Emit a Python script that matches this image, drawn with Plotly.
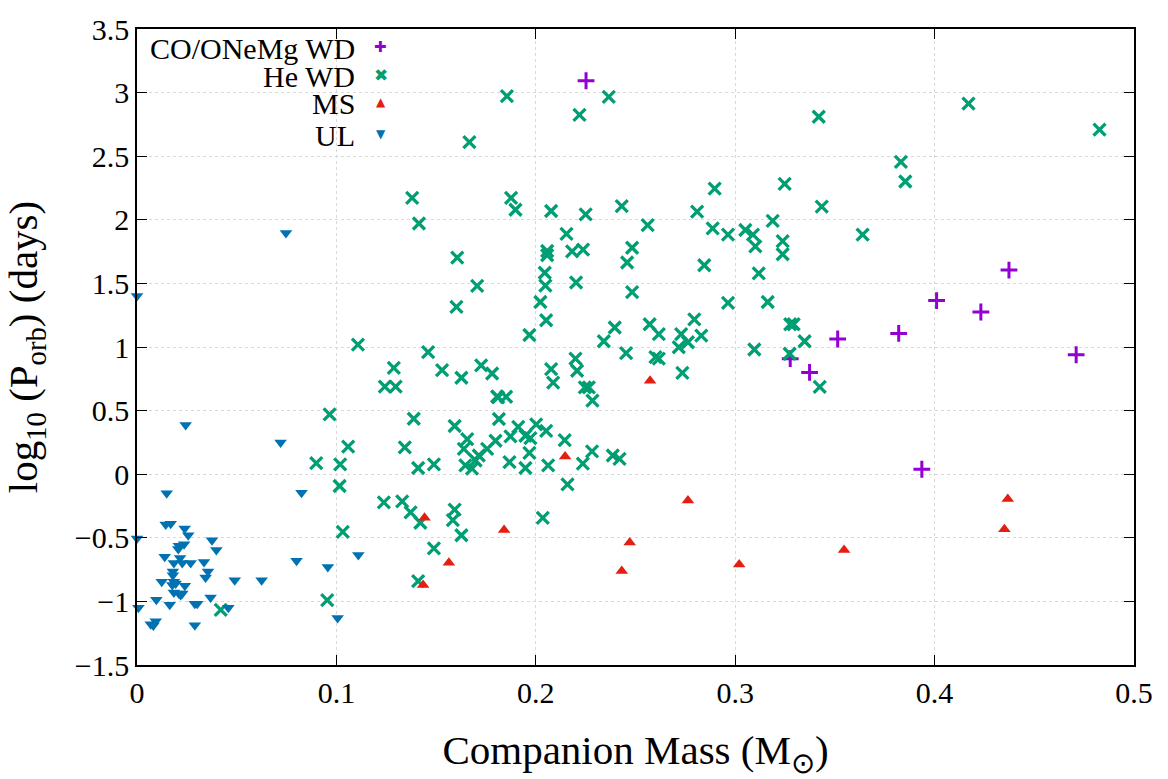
import plotly.graph_objects as go

# ---------------- data ----------------
co_mass = [0.2252, 0.3514, 0.3276, 0.3373, 0.4373, 0.4010, 0.4232, 0.3820, 0.4710, 0.3936]
co_logp = [3.093, 1.063, 0.908, 0.800, 1.605, 1.365, 1.275, 1.107, 0.939, 0.039]

he_mass = [0.0899, 0.0966, 0.0954, 0.0420, 0.1380, 0.1414, 0.1606, 0.1706, 0.1602, 0.1108,
           0.1460, 0.1288, 0.1530, 0.1627, 0.1726, 0.1781, 0.1243, 0.1297, 0.1806, 0.1388,
           0.1593, 0.1815, 0.1656, 0.1639, 0.1756, 0.1798, 0.1714, 0.1698, 0.1647, 0.1680,
           0.1059, 0.1343, 0.1019, 0.1410, 0.1489, 0.1016, 0.1238, 0.1330, 0.1372, 0.1421,
           0.1593, 0.1584, 0.1627, 0.1032, 0.1489, 0.1410, 0.1855, 0.2366, 0.2219, 0.1876,
           0.1898, 0.2077, 0.2250, 0.2431, 0.2809, 0.2561, 0.2887, 0.2154, 0.2057, 0.2057,
           0.2182, 0.2237, 0.2483, 0.2458, 0.2045, 0.2048, 0.2202, 0.2483, 0.2023, 0.2845,
           0.2052, 0.1968, 0.2341, 0.2396, 0.2571, 0.2617, 0.2795, 0.2729, 0.2830, 0.2717,
           0.2763, 0.2453, 0.2600, 0.2617, 0.2735, 0.2077, 0.2087, 0.2199, 0.2207, 0.2246,
           0.2266, 0.2284, 0.1811, 0.1851, 0.1912, 0.2002, 0.2052, 0.1873, 0.1948, 0.1973,
           0.1968, 0.1868, 0.1948, 0.2062, 0.2145, 0.2282, 0.2236, 0.2386, 0.2420, 0.2159,
           0.2035, 0.2897, 0.3248, 0.3434, 0.2964, 0.3051, 0.3089, 0.3188, 0.3101, 0.3238,
           0.3238, 0.3639, 0.3118, 0.2964, 0.3163, 0.3276, 0.3293, 0.3348, 0.3096, 0.3273,
           0.3424, 0.4170, 0.4827, 0.3831, 0.3853, 0.3419, 0.1667]
he_logp = [0.087, 0.470, -0.990, -1.066, 2.172, 1.971, 1.703, 1.481, 1.316, 1.019,
           0.960, 0.836, 0.818, 0.758, 0.856, 0.792, 0.689, 0.689, 0.611, 0.436,
           0.379, 0.434, 0.276, 0.199, 0.199, 0.263, 0.147, 0.108, 0.070, 0.044,
           0.217, 0.211, 0.077, 0.049, 0.077, -0.093, -0.222, -0.214, -0.300, -0.382,
           -0.279, -0.361, -0.480, -0.454, -0.583, -0.841, 2.972, 2.967, 2.825, 2.172,
           2.079, 2.069, 2.043, 2.108, 2.064, 1.958, 1.933, 1.889, 1.755, 1.721,
           1.752, 1.765, 1.780, 1.664, 1.584, 1.483, 1.507, 1.432, 1.354, 1.643,
           1.210, 1.094, 1.045, 1.153, 1.179, 1.101, 1.217, 1.101, 1.089, 0.998,
           1.037, 0.952, 0.921, 0.908, 0.797, 0.826, 0.720, 0.908, 0.813, 0.683,
           0.683, 0.578, 0.604, 0.609, 0.372, 0.392, 0.341, 0.297, 0.302, 0.284,
           0.168, 0.095, 0.049, 0.070, 0.268, 0.180, 0.083, 0.147, 0.121, -0.080,
           -0.343, 2.245, 2.283, 2.103, 1.884, 1.920, 1.884, 1.992, 1.791, 1.832,
           1.729, 1.884, 1.579, 1.347, 1.354, 1.179, 1.179, 1.045, 0.980, 0.947,
           0.687, 2.913, 2.709, 2.456, 2.301, 2.810, 2.611]

ms_mass = [0.1442, 0.1564, 0.1435, 0.2573, 0.2147, 0.2763, 0.1841, 0.2471, 0.2431, 0.3020,
           0.3546, 0.4367, 0.4350]
ms_logp = [-0.343, -0.697, -0.872, 0.735, 0.139, -0.206, -0.439, -0.537, -0.761, -0.710,
           -0.596, -0.194, -0.433]

ul_mass = [0.0244, 0.0720, 0.0149, 0.0825, 0.0144, 0.0169, 0.0239, 0.0257, 0.0000, 0.0376,
           0.0398, 0.0210, 0.0236, 0.0207, 0.0139, 0.0216, 0.0185, 0.0227, 0.0269, 0.0336,
           0.0800, 0.0957, 0.0180, 0.0180, 0.0356, 0.0344, 0.0124, 0.0185, 0.0194, 0.0177,
           0.0240, 0.0490, 0.0625, 0.0185, 0.0210, 0.0227, 0.0219, 0.0097, 0.0164, 0.0290,
           0.0302, 0.0369, 0.0007, 0.0458, 0.0094, 0.0069, 0.0082, 0.0290, 0.0747, 0.1006,
           0.1110, 0.0000]
ul_logp = [0.387, 0.250, -0.150, -0.145, -0.395, -0.390, -0.426, -0.480, -0.505, -0.520,
           -0.596, -0.563, -0.550, -0.588, -0.648, -0.658, -0.699, -0.699, -0.699, -0.690,
           -0.680, -0.730, -0.764, -0.795, -0.764, -0.813, -0.846, -0.846, -0.859, -0.872,
           -0.877, -0.834, -0.834, -0.930, -0.937, -0.937, -0.950, -0.988, -1.027, -1.019,
           -1.019, -0.970, -1.050, -1.050, -1.156, -1.180, -1.190, -1.187, 1.896, -1.130,
           -0.635, 1.400]

x_ticks = [0, 0.1, 0.2, 0.3, 0.4, 0.5]
x_ticklabels = ["0", "0.1", "0.2", "0.3", "0.4", "0.5"]
y_ticks = [-1.5, -1, -0.5, 0, 0.5, 1, 1.5, 2, 2.5, 3, 3.5]
y_ticklabels = ["\u22121.5", "\u22121", "\u22120.5", "0", "0.5", "1", "1.5", "2", "2.5", "3", "3.5"]

names = ["CO/ONeMg WD", "He WD", "MS", "UL"]
colors = ["#9400D3", "#009E73", "#E51E10", "#0072B2"]
legend_glyphs = ["\u271A", "\u2716", "\u25B2", "\u25BC"]
legend_glyph_sizes = [15, 17, 12, 12]

FONT = "Liberation Serif, Times New Roman, serif"

fig = go.Figure()
fig.add_trace(go.Scatter(x=co_mass, y=co_logp, mode="markers", name=names[0],
                         marker=dict(symbol="cross-thin", size=12, color=colors[0],
                                     line=dict(width=3, color=colors[0])),
                         cliponaxis=False))
fig.add_trace(go.Scatter(x=he_mass, y=he_logp, mode="markers", name=names[1],
                         marker=dict(symbol="x-thin", size=12, color=colors[1],
                                     line=dict(width=3.3, color=colors[1])),
                         cliponaxis=False))
fig.add_trace(go.Scatter(x=ms_mass, y=ms_logp, mode="markers", name=names[2],
                         marker=dict(symbol="triangle-up", size=11, color=colors[2],
                                     line=dict(width=0)),
                         cliponaxis=False))
fig.add_trace(go.Scatter(x=ul_mass, y=ul_logp, mode="markers", name=names[3],
                         marker=dict(symbol="triangle-down", size=11, color=colors[3],
                                     line=dict(width=0)),
                         cliponaxis=False))

# custom legend (text to the left of the symbol, as in the reference)
legend_y = [0.969, 0.925, 0.883, 0.833]
annotations = []
for name, col, glyph, gs, yy in zip(names, colors, legend_glyphs, legend_glyph_sizes, legend_y):
    annotations.append(dict(xref="paper", yref="paper", x=0.221, y=yy, text=name,
                            showarrow=False, xanchor="right", yanchor="middle",
                            font=dict(family=FONT, size=30, color="black")))
    annotations.append(dict(xref="paper", yref="paper", x=0.2447, y=yy + 0.002, text=glyph,
                            showarrow=False, xanchor="center", yanchor="middle",
                            font=dict(family="DejaVu Sans", size=gs, color=col)))

axis_common = dict(showline=True, linecolor="black", linewidth=1.5, mirror="ticks",
                   ticks="inside", ticklen=10, tickwidth=1.2, tickcolor="black",
                   showgrid=True, gridcolor="#d9d9d9", griddash="dot", gridwidth=1,
                   zeroline=False, tickfont=dict(family=FONT, size=30, color="black"))

fig.update_layout(
    width=1168, height=779,
    margin=dict(l=137, r=34, t=22, b=111),
    paper_bgcolor="white", plot_bgcolor="white",
    showlegend=False,
    font=dict(family=FONT, color="black"),
    annotations=annotations,
    xaxis=dict(range=[0, 0.5], tickvals=x_ticks, ticktext=x_ticklabels,
               title=dict(text="Companion Mass (M<sub>\u2299</sub>)",
                          font=dict(family=FONT, size=41), standoff=30),
               **axis_common),
    yaxis=dict(range=[-1.5, 3.5], tickvals=y_ticks, ticktext=y_ticklabels,
               title=dict(text="log<sub>10</sub> (P<sub>orb</sub>) (days)",
                          font=dict(family=FONT, size=41), standoff=28),
               **axis_common),
)

fig.write_html("out.html")
